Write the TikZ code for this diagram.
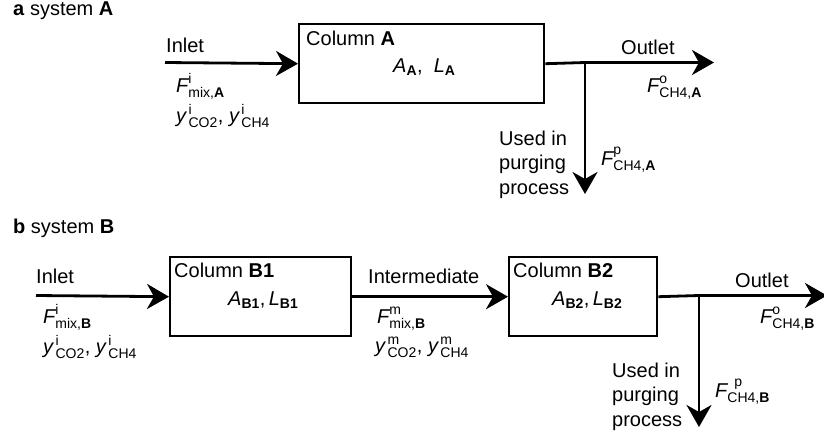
\documentclass[tikz,border=0pt]{standalone}
\usepackage{amsmath}
\usepackage{fontspec}
\setmainfont{Liberation Sans}
\usetikzlibrary{arrows.meta}
\newcommand{\vq}[3]{$\textit{#1}^{\text{#2}}_{\text{#3}}$}
\newcommand{\vs}[2]{$\textit{#1}_{\text{#2}}$}
\newcommand{\vy}[2]{$\textit{y}^{\,\text{#1}}_{\,\text{#2}}$}
\begin{document}
\begin{tikzpicture}[x=1pt,y=-1pt,
  font=\fontsize{20}{24.5}\selectfont,
  colbox/.style={draw, line width=2.4pt, inner sep=0pt, anchor=north west},
  flow/.style={line width=2.8pt, -{Stealth[length=22pt,width=25pt,inset=7pt]}},
  plain/.style={line width=2.8pt},
  txt/.style={anchor=base west, inner sep=0pt},
  multi/.style={anchor=north west, inner sep=0pt, align=left}]
\useasboundingbox (0,0) rectangle (824,437);

% ---------------- system A ----------------
\node[txt] (titleA) at (13,15) {\textbf{a} system \textbf{A}};
\node[colbox, minimum width=245pt, minimum height=79pt] (boxA) at (298,23) {};
\node[txt] (colA) at (306,45) {Column \textbf{A}};
\node[txt] (parA) at (393,72) {\vs{A}{\textbf{A}}, \ \vs{L}{\textbf{A}}};

\coordinate (inA) at (165,62.5);
\coordinate (jA) at (585,62.5);
\coordinate (outA) at (714,62.5);
\coordinate (pA) at (585,194);

\draw[flow] (inA) -- (boxA.west);
\draw[plain] (boxA.east) -- (jA);
\draw[flow] (jA) -- (outA);
\draw[flow] (jA) -- (pA);

\node[txt] (inletA) at (166,52) {Inlet};
\node[txt] (FinA) at (176,92) {\vq{F}{i}{mix,\textbf{A}}};
\node[txt] (yinA) at (176,122) {\vy{i}{CO2}, \vy{i}{CH4}};
\node[txt] (outletA) at (621,54) {Outlet};
\node[txt] (FoA) at (647,92) {\vq{F}{o}{CH4,\textbf{A}}};
\node[multi] (usedA) at (499,130.5) {Used in\\purging\\process};
\node[txt] (FpA) at (601,165) {\vq{F}{p}{CH4,\textbf{A}}};

% ---------------- system B ----------------
\node[txt] (titleB) at (13,233) {\textbf{b} system \textbf{B}};
\node[colbox, minimum width=181pt, minimum height=79pt] (boxB1) at (169,256) {};
\node[colbox, minimum width=148pt, minimum height=79pt] (boxB2) at (508,256) {};
\node[txt] (colB1) at (174,277) {Column \textbf{B1}};
\node[txt] (parB1) at (228,305) {\vs{A}{\textbf{B1}},\,\vs{L}{\textbf{B1}}};
\node[txt] (colB2) at (513,277) {Column \textbf{B2}};
\node[txt] (parB2) at (552,305) {\vs{A}{\textbf{B2}},\,\vs{L}{\textbf{B2}}};

\coordinate (inB) at (36,295.5);
\coordinate (jB) at (699,295.5);
\coordinate (outB) at (827,295.5);
\coordinate (pB) at (699,427);

\draw[flow] (inB) -- (boxB1.west);
\draw[flow] (boxB1.east) -- (boxB2.west);
\draw[plain] (boxB2.east) -- (jB);
\draw[flow] (jB) -- (outB);
\draw[flow] (jB) -- (pB);

\node[txt] (inletB) at (36,283) {Inlet};
\node[txt] (FinB) at (43,323) {\vq{F}{i}{mix,\textbf{B}}};
\node[txt] (yinB) at (43,353) {\vy{i}{CO2}, \vy{i}{CH4}};
\node[txt] (interB) at (368,283) {Intermediate};
\node[txt] (FmB) at (377,323) {\vq{F}{m}{mix,\textbf{B}}};
\node[txt] (ymB) at (375,352) {\vy{m}{CO2}, \vy{m}{CH4}};
\node[txt] (outletB) at (735,287) {Outlet};
\node[txt] (FoB) at (760,323) {\vq{F}{o}{CH4,\textbf{B}}};
\node[multi] (usedB) at (612,362.5) {Used in\\purging\\process};
\node[txt] (FpB) at (715,397) {$\textit{F}^{\hspace{7pt}\text{p}}_{\text{CH4,\textbf{B}}}$};
\end{tikzpicture}
\end{document}
